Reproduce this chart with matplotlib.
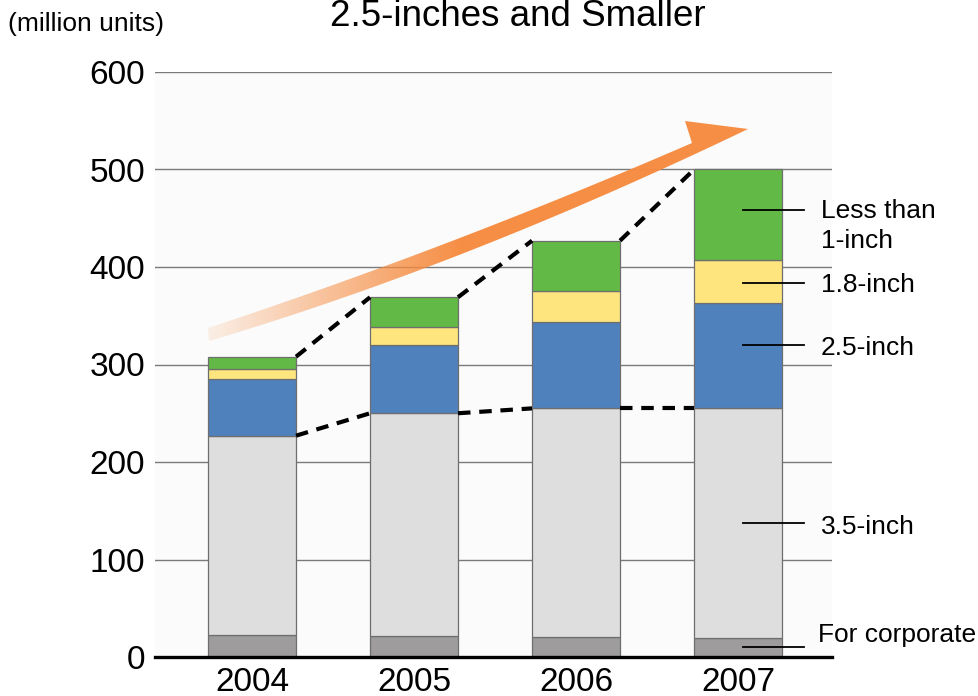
import numpy as np
import matplotlib
matplotlib.use("Agg")
import matplotlib.pyplot as plt
from matplotlib.patches import Polygon

plt.rcParams['font.family'] = ['Liberation Sans', 'DejaVu Sans']

# Shipments by drive size, million units
years = ['2004', '2005', '2006', '2007']
corporate = [23, 22, 21, 20]
inch_35 = [204, 228, 234, 235]
inch_25 = [58, 70, 89, 108]
inch_18 = [10, 18, 31, 44]
under_1 = [13, 31, 52, 93]

series_names = ['For corporate', '3.5-inch', '2.5-inch', '1.8-inch', 'Less than\n1-inch']
series_vals = [corporate, inch_35, inch_25, inch_18, under_1]
series_colors = ['#9e9c9d', '#dedede', '#4f81bd', '#fee57d', '#62b945']
label_nudge = [0, 0, 11, -1, 5]
text_dy = [9, -3, -2, -2, 0]

title = '2.5-inches and Smaller'
unit_label = '(million units)'
yticks = [0, 100, 200, 300, 400, 500, 600]

W, H = 979, 696
fig = plt.figure(figsize=(W / 100, H / 100), dpi=100)
ax = fig.add_axes([155 / W, 39 / H, 677 / W, 585 / H])
ax.set_facecolor('#fbfbfb')
ax.set_xlim(-0.599, 3.580)
ax.set_ylim(0, 600)
for s in ax.spines.values():
    s.set_visible(False)

for yv in yticks[1:]:
    ax.axhline(yv, color='#7a7a7a', lw=1.0, zorder=0)
ax.axhline(0, color='black', lw=2.4, zorder=5, clip_on=False)

x = np.arange(len(years))
bw = 0.543
bottom = np.zeros(len(years))
for vals, col in zip(series_vals, series_colors):
    ax.bar(x, vals, bw, bottom=bottom, color=col, edgecolor='#6e6e6e',
           linewidth=0.9, zorder=2)
    bottom += np.array(vals)

# Connectors between bar tops: 3.5-inch-and-larger level and total
base_top = np.array(corporate) + np.array(inch_35)
total_top = bottom
for tops in (base_top, total_top):
    for i in range(len(years) - 1):
        ax.plot([x[i] + bw / 2, x[i + 1] - bw / 2], [tops[i], tops[i + 1]],
                color='black', lw=3.0, dashes=(3.0, 2.1), zorder=4,
                dash_capstyle='butt')

# Series labels beside the last bar
last = len(years) - 1
cum = 0
for name, vals, nudge, dy in zip(series_names, series_vals, label_nudge, text_dy):
    mid = cum + vals[last] / 2 + nudge
    cum += vals[last]
    ax.plot([3.03, 3.41], [mid, mid], color='black', lw=1.3, zorder=6,
            clip_on=False)
    if '\n' in name:
        ax.annotate(name, xy=(3.51, mid), xytext=(0, 8), textcoords='offset points',
                    ha='left', va='top', fontsize=19, linespacing=1.3,
                    annotation_clip=False)
    else:
        ax.annotate(name, xy=(3.51, mid), xytext=(0 if dy <= 0 else -2, dy),
                    textcoords='offset points', ha='left', va='center',
                    fontsize=19, annotation_clip=False)

ax.set_yticks(yticks)
ax.set_yticklabels([str(v) for v in yticks])
ax.set_xticks(x)
ax.set_xticklabels(years)
ax.tick_params(axis='y', length=0, pad=7, labelsize=24)
ax.tick_params(axis='x', length=0, pad=7, labelsize=24)

fig.text(518 / W, 1 - 26 / H, title, ha='center', va='baseline', fontsize=26.5)
fig.text(8 / W, 1 - 24 / H, unit_label, ha='left', va='center', fontsize=19)

# Growth arrow drawn in pixel space on a transparent overlay
ov = fig.add_axes([0, 0, 1, 1], zorder=10)
ov.axis('off')
ov.patch.set_alpha(0)


def bez(p0, c, p1, n=60):
    t = np.linspace(0, 1, n)[:, None]
    p0, c, p1 = map(np.asarray, (p0, c, p1))
    return (1 - t) ** 2 * p0 + 2 * (1 - t) * t * c + t ** 2 * p1


top_edge = bez((208, 328), (450, 248), (692, 143))
low_edge = bez((209, 341), (465, 265), (748, 129))
outline = np.vstack([top_edge, [(685, 121), (748, 129)], low_edge[::-1]])
clip = Polygon(outline, closed=True, facecolor='none', edgecolor='none')
ov.add_patch(clip)

gx = np.linspace(200, 760, 400)
alpha = np.clip(0.12 + 0.88 * (gx - 208) / (460 - 208), 0.12, 1.0)
rgba = np.zeros((2, gx.size, 4))
rgba[..., 0] = 246 / 255
rgba[..., 1] = 139 / 255
rgba[..., 2] = 63 / 255
rgba[..., 3] = alpha * 0.97
im = ov.imshow(rgba, extent=(200, 760, 360, 110), aspect='auto',
               interpolation='bilinear')
im.set_clip_path(clip)
ov.set_xlim(0, W)
ov.set_ylim(H, 0)

fig.savefig('out.png', dpi=100)
